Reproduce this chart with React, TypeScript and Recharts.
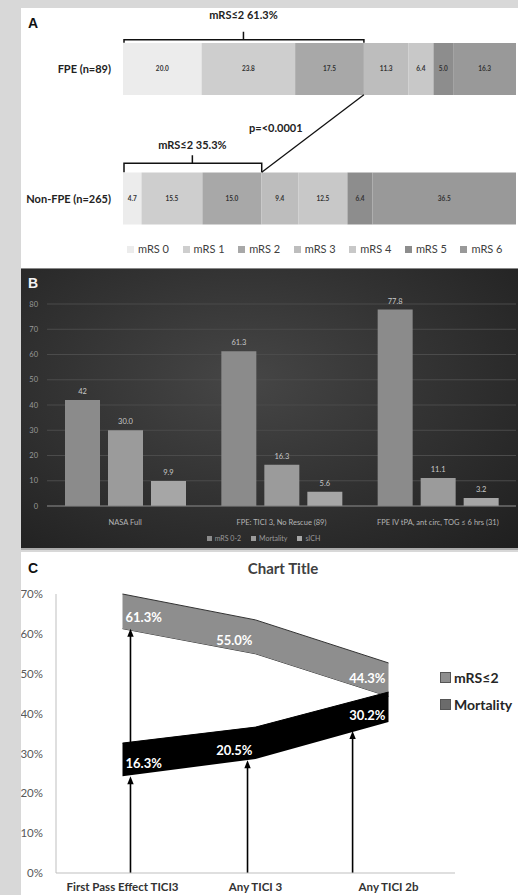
import React from 'react';
import {
  BarChart,
  Bar,
  XAxis,
  YAxis,
  CartesianGrid,
  Legend,
  LabelList,
  ReferenceLine,
  ComposedChart,
  Area
} from 'recharts';

// ---- Panel A: mRS distribution ----
const groupsA = ['FPE (n=89)', 'Non-FPE (n=265)'];
const mrsLevels = ['mRS 0', 'mRS 1', 'mRS 2', 'mRS 3', 'mRS 4', 'mRS 5', 'mRS 6'];
const fpeShares = [20.0, 23.8, 17.5, 11.3, 6.4, 5.0, 16.3];
const nonFpeShares = [4.7, 15.5, 15.0, 9.4, 12.5, 6.4, 36.5];
const mrsColors = ['#ececec', '#cecece', '#a8a8a8', '#bdbdbd', '#c8c8c8', '#8d8d8d', '#999999'];
const goodOutcomeA = [61.3, 35.3];
const pValueText = 'p=<0.0001';

// ---- Panel B: outcome comparison ----
const groupsB = ['NASA Full', 'FPE: TICI 3, No Rescue (89)', 'FPE IV tPA, ant circ, TOG ≤ 6 hrs (31)'];
const outcomesB = ['mRS 0-2', 'Mortality', 'sICH'];
const mrs02B = [42, 61.3, 77.8];
const mortalityB = [30.0, 16.3, 11.1];
const sichB = [9.9, 5.6, 3.2];
const ticksB = [0, 10, 20, 30, 40, 50, 60, 70, 80];
const colorsB = ['#8b8b8b', '#9b9b9b', '#a6a6a6'];

// ---- Panel C: bands ----
const groupsC = ['First Pass Effect TICI3', 'Any TICI 3', 'Any TICI 2b'];
const mrsGoodC = [61.3, 55.0, 44.3];
const mrsBandC = [8.7, 8.5, 8.4];
const mortalityC = [16.3, 20.5, 30.2];
const mortBaseC = [24.3, 28.6, 37.9];
const mortBandC = [8.3, 8.0, 7.5];
const ticksC = [0, 10, 20, 30, 40, 50, 60, 70];
// arrows, x in category units (0..3)
const arrowX = [0.56, 0.56, 1.44, 2.23];
const arrowFrom = [0, 32.6, 0, 0];
const arrowTo = [24.3, 61.3, 28.3, 35.6];

const FONT = 'Lato, "Open Sans", sans-serif';
const BAR_A = 52;

const dataA = groupsA.map((name, i) => {
  const vals = i === 0 ? fpeShares : nonFpeShares;
  const row: Record<string, any> = { name };
  vals.forEach((v, k) => (row[`m${k}`] = v));
  return row;
});

const dataB = groupsB.map((name, i) => ({
  name,
  mrs: mrs02B[i],
  mort: mortalityB[i],
  sich: sichB[i]
}));

const dataC = groupsC.map((name, i) => ({
  name,
  pos: i + 0.5,
  mrsBase: mrsGoodC[i],
  mrsBand: mrsBandC[i],
  mrsLabel: mrsGoodC[i],
  mortBase: mortBaseC[i],
  mortBand: mortBandC[i],
  mortLabel: mortalityC[i]
}));

// bracket above a bar, from 0 to the mRS<=2 cut point
const Bracket = (p: any) => {
  const { x1, x2, y1, arm, label } = p;
  const top = y1 - BAR_A / 2;
  const h = top - arm;
  const mid = (x1 + x2) / 2;
  return (
    <g>
      <path
        d={`M${x1 + 1},${top} L${x1 + 1},${h} L${x2},${h} L${x2},${top} M${mid},${h} L${mid},${h - 8}`}
        stroke="#111"
        strokeWidth={1.5}
        fill="none"
      />
      <text x={mid} y={top - 28} textAnchor="middle" dominantBaseline="central" fontFamily={FONT} fontWeight="bold" fontSize={11} fill="#222">
        {label}
      </text>
    </g>
  );
};

const PLine = (p: any) => {
  const { x1, y1, x2, y2 } = p;
  const sx = x1, sy = y1 + BAR_A / 2;
  const ex = x2, ey = y2 - BAR_A / 2;
  return (
    <g>
      <line x1={sx} y1={sy} x2={ex} y2={ey} stroke="#111" strokeWidth={1.3} />
      <text x={(sx + ex) / 2 - 37} y={(sy + ey) / 2 - 6} textAnchor="middle" dominantBaseline="central" fontFamily={FONT} fontWeight="bold" fontSize={11} fill="#222">
        {pValueText}
      </text>
    </g>
  );
};

const Arrow = (p: any) => {
  const { x1, y1, x2, y2 } = p;
  return (
    <g>
      <line x1={x1} y1={y1} x2={x2} y2={y2 + 4} stroke="#000" strokeWidth={1.6} />
      <polygon points={`${x2},${y2} ${x2 - 3.2},${y2 + 8} ${x2 + 3.2},${y2 + 8}`} fill="#000" />
    </g>
  );
};

const bandLabel = (offsets: number[]) => (props: any) => {
  const x = props.x ?? props.viewBox?.x;
  const y = props.y ?? props.viewBox?.y;
  const first = props.index === 0;
  return (
    <text
      x={first ? x + 3 : x - 3}
      y={y + offsets[props.index]}
      textAnchor={first ? 'start' : 'end'}
      dominantBaseline="central"
      fill="#fff"
      fontFamily={FONT}
      fontWeight="bold"
      fontSize={13}
    >
      {`${Number(props.value).toFixed(1)}%`}
    </text>
  );
};

const panelLetter = (color: string, top: number): React.CSSProperties => ({
  position: 'absolute',
  left: 7,
  top,
  fontFamily: '"Liberation Sans", Arial, sans-serif',
  fontWeight: 'bold',
  fontSize: 14,
  color
});

const GroupTickA = (p: any) => (
  <text x={p.x} y={p.y} textAnchor="end" dominantBaseline="central" fontFamily={FONT} fontWeight="bold" fontSize={11} fill="#222">
    {p.payload.value}
  </text>
);

export default function App() {
  return (
    <div style={{ position: 'absolute', left: 0, top: 0, width: 518, height: 895, background: '#d8d8d8', overflow: 'hidden' }}>
      {/* Panel A */}
      <div style={{ position: 'absolute', left: 21, top: 8, width: 497, height: 260, background: '#fff' }}>
        <div style={panelLetter('#111', 7)}>A</div>
      </div>
      <div style={{ position: 'absolute', left: 21, top: 4 }}>
        <BarChart
          width={495}
          height={264}
          data={dataA}
          layout="vertical"
          barSize={BAR_A}
          margin={{ top: 0, right: 0, bottom: 5, left: 0 }}
        >
          <XAxis type="number" domain={[0, 100]} hide allowDataOverflow />
          <YAxis
            type="category"
            dataKey="name"
            width={102}
            axisLine={false}
            tickLine={false}
            tickSize={0}
            tickMargin={12}
            tick={<GroupTickA />}
          />
          {mrsLevels.map((lvl, k) => (
            <Bar key={lvl} dataKey={`m${k}`} name={lvl} stackId="a" fill={mrsColors[k]} isAnimationActive={false}>
              <LabelList
                dataKey={`m${k}`}
                position="center"
                formatter={(v: any) => Number(v).toFixed(1)}
                fontSize={6.5}
                fontWeight="bold"
                fill="#333"
                fontFamily={FONT}
              />
            </Bar>
          ))}
          {groupsA.map((g, i) => (
            <ReferenceLine
              key={g}
              ifOverflow="visible"
              segment={[{ x: 0, y: g }, { x: goodOutcomeA[i], y: g }]}
              shape={(p: any) => <Bracket {...p} arm={i === 0 ? 3 : 9} label={`mRS≤2 ${goodOutcomeA[i]}%`} />}
            />
          ))}
          <ReferenceLine
            ifOverflow="visible"
            segment={[{ x: goodOutcomeA[0], y: groupsA[0] }, { x: goodOutcomeA[1], y: groupsA[1] }]}
            shape={(p: any) => <PLine {...p} />}
          />
          <Legend
            verticalAlign="middle"
            align="center"
            wrapperStyle={{ top: 238, left: 0, width: 495, height: 14 }}
            content={() => (
              <div style={{ display: 'flex', paddingLeft: 106, fontFamily: FONT, fontSize: 11, color: '#404040', lineHeight: '14px' }}>
                {mrsLevels.map((lvl, k) => (
                  <div key={lvl} style={{ width: 57, display: 'flex', alignItems: 'center' }}>
                    <span style={{ width: 7, height: 7, background: mrsColors[k], marginRight: 4, display: 'inline-block' }} />
                    {lvl}
                  </div>
                ))}
              </div>
            )}
          />
        </BarChart>
      </div>

      {/* Panel B */}
      <div
        style={{
          position: 'absolute',
          left: 21,
          top: 268,
          width: 497,
          height: 282,
          background: 'radial-gradient(ellipse at 45% 40%, #464646 0%, #323232 50%, #1f1f1f 100%)',
          borderTop: '1px solid #888',
          borderBottom: '2px solid #aaa',
          boxSizing: 'border-box'
        }}
      >
        <div style={panelLetter('#f2f2f2', 6)}>B</div>
        <BarChart
          width={495}
          height={280}
          data={dataB}
          barSize={35}
          barGap={8}
          margin={{ top: 35, right: 0, bottom: 23, left: 0 }}
        >
          <CartesianGrid vertical={false} stroke="#4b4b4b" />
          <XAxis
            dataKey="name"
            height={20}
            tickLine={false}
            axisLine={{ stroke: '#808080' }}
            tickMargin={8}
            tick={{ fontSize: 7.5, fill: '#b4b4b4', fontFamily: FONT }}
            interval={0}
          />
          <YAxis
            domain={[0, 80]}
            ticks={ticksB}
            width={26}
            axisLine={false}
            tickLine={false}
            tickSize={0}
            tickMargin={9}
            tick={{ fontSize: 7.5, fill: '#9a9a9a', fontFamily: FONT }}
          />
          <Bar dataKey="mrs" name={outcomesB[0]} fill={colorsB[0]} isAnimationActive={false}>
            <LabelList dataKey="mrs" position="top" offset={6} fontSize={7.5} fill="#c8c8c8" fontFamily={FONT} />
          </Bar>
          <Bar dataKey="mort" name={outcomesB[1]} fill={colorsB[1]} isAnimationActive={false}>
            <LabelList dataKey="mort" position="top" offset={6} fontSize={7.5} fill="#c8c8c8" fontFamily={FONT} formatter={(v: any) => Number(v).toFixed(1)} />
          </Bar>
          <Bar dataKey="sich" name={outcomesB[2]} fill={colorsB[2]} isAnimationActive={false}>
            <LabelList dataKey="sich" position="top" offset={6} fontSize={7.5} fill="#c8c8c8" fontFamily={FONT} />
          </Bar>
          <Legend
            verticalAlign="middle"
            align="center"
            wrapperStyle={{ top: 263, left: 0, width: 495, height: 12 }}
            content={() => (
              <div style={{ display: 'flex', justifyContent: 'center', fontFamily: FONT, fontSize: 7, color: '#9a9a9a', lineHeight: '12px' }}>
                {outcomesB.map((o, k) => (
                  <div key={o} style={{ display: 'flex', alignItems: 'center', marginRight: 10 }}>
                    <span style={{ width: 5, height: 5, background: colorsB[k], marginRight: 3, display: 'inline-block' }} />
                    {o}
                  </div>
                ))}
              </div>
            )}
          />
        </BarChart>
      </div>

      {/* Panel C */}
      <div style={{ position: 'absolute', left: 21, top: 552, width: 497, height: 343, background: '#fff' }}>
        <div style={panelLetter('#111', 8)}>C</div>
        <div
          style={{
            position: 'absolute',
            left: 0,
            width: 524,
            top: 7,
            textAlign: 'center',
            fontFamily: FONT,
            fontWeight: 'bold',
            fontSize: 15,
            color: '#404040'
          }}
        >
          Chart Title
        </div>
        <ComposedChart
          width={495}
          height={343}
          data={dataC}
          margin={{ top: 42, right: 61, bottom: 0, left: 0 }}
        >
          <XAxis
            type="number"
            dataKey="pos"
            domain={[0, 3]}
            ticks={dataC.map((d) => d.pos)}
            tickFormatter={(v) => groupsC[Math.floor(v)]}
            height={22}
            tickLine={false}
            axisLine={{ stroke: '#bfbfbf' }}
            tickSize={0}
            tickMargin={10}
            interval={0}
            tick={{ fontSize: 11.5, fontWeight: 'bold', fill: '#333', fontFamily: FONT }}
          />
          <YAxis
            domain={[0, 70]}
            ticks={ticksC}
            width={35}
            tickFormatter={(v) => `${v}%`}
            axisLine={{ stroke: '#bfbfbf' }}
            tickLine={false}
            tickSize={0}
            tickMargin={13}
            tick={{ fontSize: 11.5, fill: '#595959', fontFamily: FONT }}
          />
          <Area type="linear" dataKey="mrsBase" stackId="g" fill="none" stroke="#333" strokeWidth={1} isAnimationActive={false} />
          <Area type="linear" dataKey="mrsBand" stackId="g" fill="#8e8e8e" fillOpacity={1} stroke="#333" strokeWidth={1} isAnimationActive={false}>
            <LabelList dataKey="mrsLabel" content={bandLabel([23, 20, 15])} />
          </Area>
          <Area type="linear" dataKey="mortBase" stackId="k" fill="none" stroke="none" isAnimationActive={false} />
          <Area type="linear" dataKey="mortBand" stackId="k" fill="#000" fillOpacity={1} stroke="#000" isAnimationActive={false}>
            <LabelList dataKey="mortLabel" content={bandLabel([20, 23, 23])} />
          </Area>
          {arrowX.map((ax, i) => (
            <ReferenceLine
              key={i}
              ifOverflow="visible"
              segment={[{ x: ax, y: arrowFrom[i] }, { x: ax, y: arrowTo[i] }]}
              shape={(p: any) => <Arrow {...p} />}
            />
          ))}
          <Legend
            verticalAlign="middle"
            align="center"
            wrapperStyle={{ top: 112, left: 419, width: 80, height: 54 }}
            content={() => (
              <div style={{ fontFamily: FONT, fontWeight: 'bold', fontSize: 14, color: '#262626' }}>
                {[
                  { label: 'mRS≤2', color: '#8e8e8e' },
                  { label: 'Mortality', color: '#6b6b6b' }
                ].map((it) => (
                  <div key={it.label} style={{ display: 'flex', alignItems: 'center', height: 27 }}>
                    <span style={{ width: 9, height: 9, background: it.color, border: '1px solid #555', marginRight: 3, display: 'inline-block' }} />
                    {it.label}
                  </div>
                ))}
              </div>
            )}
          />
        </ComposedChart>
      </div>
    </div>
  );
}
